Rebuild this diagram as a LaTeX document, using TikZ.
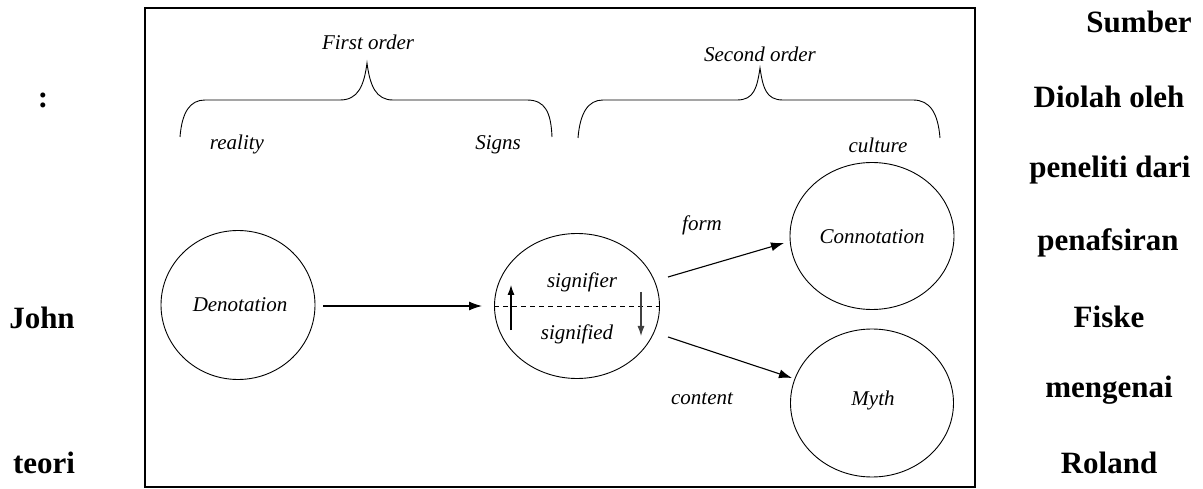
\documentclass[tikz,border=0pt]{standalone}
\usepackage{fontspec}
\setmainfont{Liberation Serif}
\usetikzlibrary{arrows.meta,shapes.geometric}
\tikzset{
  lbl/.style={font=\fontsize{21}{25}\selectfont\itshape, inner sep=0pt},
  side/.style={font=\fontsize{31}{36}\selectfont\bfseries, inner sep=0pt},
  circ/.style={draw, ellipse, line width=0.9pt, inner sep=0pt},
  arr/.style={line width=1.1pt, -{Latex[length=13pt,width=9pt]}},
  small/.style={line width=1.1pt, -{Latex[length=10pt,width=7pt]}},
  brace/.style={line width=0.9pt},
  frame/.style={line width=2.4pt}
}
\begin{document}
\begin{tikzpicture}[x=1pt,y=-1pt]
\useasboundingbox (0,0) rectangle (1203,489);
% frame
\draw[frame] (145,8) rectangle (975,487);
% braces
\draw[brace] (180,137) .. controls (182,112) and (190,100) .. (205,100) -- (340,100)
  .. controls (358,100) and (364,86) .. (367,63)
  .. controls (370,86) and (376,100) .. (393,100) -- (527,100)
  .. controls (545,100) and (551,112) .. (552,137);
\draw[brace] (578,138) .. controls (580,113) and (588,100) .. (603,100) -- (737,100)
  .. controls (754,100) and (757,88) .. (760,68)
  .. controls (763,88) and (766,100) .. (783,100) -- (913,100)
  .. controls (930,100) and (938,113) .. (940,138);
% brace labels
\node[lbl] (first) at (368,42) {First order};
\node[lbl] (second) at (760,54) {Second order};
\node[lbl] (reality) at (237,144) {reality};
\node[lbl] (signs) at (498,145) {Signs};
\node[lbl] (culture) at (878,145) {culture};
% circles
\node[circ, minimum width=154pt, minimum height=149pt] (den) at (238,305) {};
\node[lbl] (dent) at (240,305) {Denotation};
\node[circ, minimum width=165pt, minimum height=145pt] (sig) at (577,306) {};
\node[circ, minimum width=164pt, minimum height=147pt] (conn) at (872,236) {};
\node[lbl] (connt) at (872,237) {Connotation};
\node[circ, minimum width=163pt, minimum height=148pt] (myth) at (872,403) {};
\node[lbl] (mytht) at (873,400) {Myth};
% inside signifier circle
\node[lbl] (sfr) at (582,282) {signifier};
\node[lbl] (sfd) at (577,334) {signified};
\draw[line width=0.9pt, dash pattern=on 5pt off 4pt] (sig.west) -- (sig.east);
\coordinate (ua) at (511,330);
\coordinate (ub) at (511,285);
\draw[small] (ua) -- (ub);
\coordinate (da) at (641,292);
\coordinate (db) at (641,336);
\draw[small, black!75] (da) -- (db);
% connectors
\coordinate (d1) at (323,306);
\coordinate (d2) at (482,306);
\draw[arr] (d1) -- (d2);
\coordinate (f1) at (668,277);
\coordinate (f2) at (784,243);
\draw[arr] (f1) -- (f2);
\coordinate (c1) at (668,337);
\coordinate (c2) at (792,378);
\draw[arr] (c1) -- (c2);
\node[lbl] (form) at (702,225) {form};
\node[lbl] (content) at (702,399) {content};
% side text
\node[side] (colon) at (43,100) {:};
\node[side] (john) at (42,318) {John};
\node[side] (teori) at (44,463) {teori};
\node[side] (s1) at (1139,22) {Sumber};
\node[side] (s2) at (1109,97) {Diolah oleh};
\node[side] (s3) at (1110,170) {peneliti dari};
\node[side] (s4) at (1108,243) {penafsiran};
\node[side] (s5) at (1109,317) {Fiske};
\node[side] (s6) at (1109,390) {mengenai};
\node[side] (s7) at (1109,463) {Roland};
\end{tikzpicture}
\end{document}
